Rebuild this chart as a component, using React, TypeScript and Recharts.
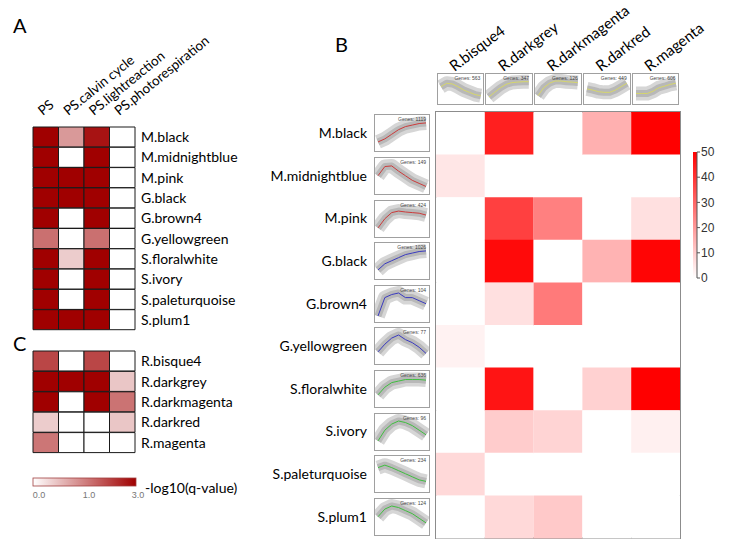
import React from "react";
import {
  BarChart,
  Bar,
  XAxis,
  YAxis,
  Cell,
  LineChart,
  Line,
  ReferenceArea,
} from "recharts";

const FONT = "Lato, 'Open Sans', sans-serif";

// panel A / C : -log10(q-value) of photosynthesis terms
const psTerms = ["PS", "PS.calvin cycle", "PS.lightreaction", "PS.photorespiration"];
const moduleRows = [
  "M.black",
  "M.midnightblue",
  "M.pink",
  "G.black",
  "G.brown4",
  "G.yellowgreen",
  "S.floralwhite",
  "S.ivory",
  "S.paleturquoise",
  "S.plum1",
];
const moduleQ = [
  [3, 0.8, 2.7, 0],
  [3, 0, 3, 0],
  [3, 3, 3, 0],
  [3, 3, 3, 0],
  [3, 0, 3, 0],
  [1.25, 0, 1.25, 0],
  [3, 0.4, 3, 0],
  [3, 0, 3, 0],
  [3, 0, 3, 0],
  [3, 3, 3, 0],
];
const rRows = ["R.bisque4", "R.darkgrey", "R.darkmagenta", "R.darkred", "R.magenta"];
const rQ = [
  [1.9, 0, 1.9, 0],
  [3, 3, 3, 0.45],
  [3, 0, 3, 1.2],
  [0.4, 0, 0, 0.45],
  [1.15, 0, 0, 0],
];
const qTicks = ["0.0", "1.0", "3.0"];

// panel B : overlap significance between module sets
const overlap = [
  [0, 44, 0, 15.5, 50],
  [5, 0, 0, 0, 0],
  [0, 37.5, 25, 0, 6],
  [0, 48, 0, 15, 49],
  [0, 6, 26, 0, 0],
  [2.5, 0, 0, 0, 0],
  [0, 46, 0, 9, 50],
  [0, 10, 8.5, 0, 3],
  [7.5, 0, 0, 0, 0],
  [0, 7.5, 10.5, 0, 0],
];
const overlapTicks = [0, 10, 20, 30, 40, 50];

// expression profiles (mean line of each module)
const rGenes = [563, 347, 126, 449, 606];
const rProfiles = [
  [0.6, 0.75, 0.72, 0.6, 0.45, 0.35, 0.25, 0.2],
  [0.15, 0.35, 0.55, 0.7, 0.78, 0.8, 0.82, 0.82],
  [0.2, 0.55, 0.75, 0.85, 0.85, 0.82, 0.8, 0.78],
  [0.5, 0.45, 0.38, 0.35, 0.35, 0.45, 0.6, 0.75],
  [0.3, 0.3, 0.3, 0.4, 0.55, 0.62, 0.7, 0.75],
];
const mGenes = [1119, 149, 424, 1026, 104, 77, 636, 96, 234, 124];
const mProfiles = [
  [0.2, 0.3, 0.45, 0.6, 0.7, 0.75, 0.8, 0.82],
  [0.5, 0.8, 0.82, 0.65, 0.5, 0.35, 0.25, 0.15],
  [0.2, 0.5, 0.7, 0.75, 0.72, 0.7, 0.68, 0.62],
  [0.2, 0.4, 0.5, 0.6, 0.7, 0.75, 0.8, 0.82],
  [0.1, 0.7, 0.8, 0.85, 0.7, 0.7, 0.6, 0.5],
  [0.3, 0.55, 0.75, 0.85, 0.7, 0.6, 0.45, 0.25],
  [0.3, 0.55, 0.7, 0.75, 0.8, 0.8, 0.8, 0.78],
  [0.2, 0.55, 0.75, 0.85, 0.8, 0.7, 0.55, 0.4],
  [0.7, 0.78, 0.7, 0.6, 0.5, 0.4, 0.3, 0.25],
  [0.5, 0.75, 0.85, 0.8, 0.7, 0.6, 0.45, 0.3],
];
const mLineColors = [
  "#cc3b3b", "#cc3b3b", "#cc3b3b",
  "#3b3bc0", "#3b3bc0", "#3b3bc0",
  "#3fbf3f", "#3fbf3f", "#3fbf3f", "#3fbf3f",
];
const rLineColor = "#d6d66a";

// positions of the B heatmap plot
const B_LEFT = 436;
const B_RIGHT = 680;
const B_TOP = 112;
const B_BOTTOM = 538;

function qColor(v: number) {
  const t = v <= 1 ? v * 0.5 : 0.5 + (v - 1) * 0.25;
  const r = Math.round(255 + (160 - 255) * t);
  const g = Math.round(255 * (1 - t));
  return `rgb(${r},${g},${g})`;
}

function redColor(v: number) {
  const g = Math.round(255 * (1 - v / 50));
  return `rgb(255,${g},${g})`;
}

function gridTable(rows: string[], ncol: number) {
  return rows.map((name) => {
    const row: Record<string, string | number> = { name };
    for (let j = 0; j < ncol; j++) row["c" + j] = 1;
    return row;
  });
}

function TermTick(props: any) {
  const { x, y, payload } = props;
  return (
    <text
      transform={`translate(${x - 3},${y - 11}) rotate(-39)`}
      textAnchor="start"
      fontSize={13.5}
      fontFamily={FONT}
      fill="#000"
    >
      {psTerms[Math.floor(payload.value)]}
    </text>
  );
}

function ModuleTick(props: any) {
  const { x, y, payload } = props;
  return (
    <text
      transform={`translate(${x - 6},${y - 40}) rotate(-37)`}
      textAnchor="start"
      fontSize={15}
      fontFamily={FONT}
      fill="#000"
    >
      {rRows[Math.floor(payload.value)]}
    </text>
  );
}

function PsGrid({ rows, values, width, height, margin, showTerms }: any) {
  return (
    <BarChart
      width={width}
      height={height}
      data={gridTable(rows, psTerms.length)}
      layout="vertical"
      margin={margin}
      barCategoryGap={0}
      barGap={0}
    >
      <XAxis
        type="number"
        domain={[0, 4]}
        orientation="top"
        ticks={[0.5, 1.5, 2.5, 3.5]}
        height={30}
        hide={!showTerms}
        axisLine={false}
        tickLine={false}
        tickSize={0}
        tickMargin={0}
        tick={<TermTick />}
        interval={0}
      />
      <YAxis
        type="category"
        dataKey="name"
        orientation="right"
        width={110}
        axisLine={false}
        tickLine={false}
        tickSize={0}
        tickMargin={6}
        interval={0}
        tick={{ fill: "#000", fontSize: 14, fontFamily: FONT }}
      />
      {psTerms.map((term, j) => (
        <Bar key={term} dataKey={"c" + j} stackId="s" isAnimationActive={false}>
          {rows.map((r: string, i: number) => (
            <Cell key={r} fill={qColor(values[i][j])} stroke="#1a1a1a" strokeWidth={1} />
          ))}
        </Bar>
      ))}
    </BarChart>
  );
}

function Thumb({ profile, color, genes, left, top, w, h }: any) {
  const data = profile.map((v: number, i: number) => ({ t: i, v }));
  return (
    <div
      style={{
        position: "absolute",
        left,
        top,
        width: w,
        height: h,
        border: "1px solid #a0a0a0",
        boxSizing: "border-box",
        background: "#fff",
      }}
    >
      <LineChart
        width={w - 2}
        height={h - 2}
        data={data}
        margin={{ top: 7, right: 3, bottom: 6, left: 3 }}
      >
        <XAxis dataKey="t" type="number" domain={[0, 7]} hide />
        <YAxis type="number" domain={[0.1, 0.85]} hide />
        <Line
          dataKey="v"
          stroke="#d6d6d6"
          strokeWidth={14}
          dot={false}
          isAnimationActive={false}
          strokeLinejoin="round"
        />
        <Line
          dataKey="v"
          stroke="#b8b8b8"
          strokeWidth={7}
          dot={false}
          isAnimationActive={false}
          strokeLinejoin="round"
        />
        <Line
          dataKey="v"
          stroke={color}
          strokeWidth={1}
          dot={false}
          isAnimationActive={false}
        />
      </LineChart>
      <div
        style={{
          position: "absolute",
          right: 3,
          top: 1,
          fontSize: 5,
          lineHeight: "6px",
          fontFamily: "Arial, 'Liberation Sans', sans-serif",
          color: "#444",
        }}
      >
        Genes: {genes}
      </div>
    </div>
  );
}

export default function App() {
  const bWrapLeft = 200;
  const bWrapW = 535;
  const yAxisW = 170;
  const rowH = (B_BOTTOM - B_TOP) / moduleRows.length;
  const colW = (B_RIGHT - B_LEFT) / rRows.length;

  return (
    <div
      style={{
        position: "absolute",
        left: 0,
        top: 0,
        width: 735,
        height: 552,
        background: "#fff",
        overflow: "hidden",
      }}
    >
      {/* panel A */}
      <div style={{ position: "absolute", left: 0, top: 0 }}>
        <PsGrid
          rows={moduleRows}
          values={moduleQ}
          width={260}
          height={335}
          margin={{ top: 97, right: 15, bottom: 5, left: 33 }}
          showTerms
        />
      </div>

      {/* panel C */}
      <div style={{ position: "absolute", left: 0, top: 341 }}>
        <PsGrid
          rows={rRows}
          values={rQ}
          width={260}
          height={122}
          margin={{ top: 10, right: 15, bottom: 10, left: 33 }}
          showTerms={false}
        />
      </div>

      {/* panel B heatmap */}
      <div style={{ position: "absolute", left: bWrapLeft, top: 0 }}>
        <BarChart
          width={bWrapW}
          height={552}
          data={gridTable(moduleRows, rRows.length)}
          layout="vertical"
          margin={{
            top: B_TOP - 20,
            right: bWrapLeft + bWrapW - B_RIGHT,
            bottom: 552 - B_BOTTOM,
            left: B_LEFT - bWrapLeft - yAxisW,
          }}
          barCategoryGap={0}
          barGap={0}
        >
          <XAxis
            type="number"
            domain={[0, 5]}
            orientation="top"
            ticks={[0.5, 1.5, 2.5, 3.5, 4.5]}
            height={20}
            axisLine={false}
            tickLine={false}
            tickSize={0}
            tickMargin={0}
            tick={<ModuleTick />}
            interval={0}
          />
          <YAxis
            type="category"
            dataKey="name"
            width={yAxisW}
            axisLine={false}
            tickLine={false}
            tickSize={0}
            tickMargin={69}
            interval={0}
            tick={{ fill: "#000", fontSize: 14, fontFamily: FONT }}
          />
          {rRows.map((r, j) => (
            <Bar key={r} dataKey={"c" + j} stackId="s" isAnimationActive={false}>
              {moduleRows.map((m, i) => (
                <Cell key={m} fill={redColor(overlap[i][j])} />
              ))}
            </Bar>
          ))}
          <ReferenceArea
            x1={0}
            x2={5}
            fill="none"
            stroke="#8c8c8c"
            strokeWidth={2}
            ifOverflow="visible"
          />
        </BarChart>
      </div>

      {/* module profile thumbnails */}
      {mProfiles.map((p, i) => (
        <Thumb
          key={moduleRows[i]}
          profile={p}
          color={mLineColors[i]}
          genes={mGenes[i]}
          left={374}
          top={B_TOP + i * rowH + (rowH - 38) / 2}
          w={56}
          h={38}
        />
      ))}
      {rProfiles.map((p, j) => (
        <Thumb
          key={rRows[j]}
          profile={p}
          color={rLineColor}
          genes={rGenes[j]}
          left={B_LEFT + j * colW + 0.5}
          top={73}
          w={colW - 1}
          h={32}
        />
      ))}

      {/* colour bar of panel B */}
      <div style={{ position: "absolute", left: 680, top: 140 }}>
        <BarChart
          width={55}
          height={150}
          data={[{ name: "scale", v: 50 }]}
          margin={{ top: 12, right: 8, bottom: 12, left: 13 }}
          barCategoryGap={0}
        >
          <defs>
            <linearGradient id="redScale" x1="0" y1="1" x2="0" y2="0">
              <stop offset="0%" stopColor="#ffffff" />
              <stop offset="100%" stopColor="#ff0000" />
            </linearGradient>
          </defs>
          <XAxis dataKey="name" hide />
          <YAxis
            type="number"
            domain={[0, 50]}
            ticks={overlapTicks}
            orientation="right"
            width={30}
            tickSize={3}
            tickMargin={1}
            stroke="#555"
            tick={{ fill: "#333", fontSize: 12, fontFamily: "Arial, 'Liberation Sans', sans-serif" }}
            interval={0}
          />
          <Bar dataKey="v" fill="url(#redScale)" isAnimationActive={false} />
        </BarChart>
      </div>

      {/* panel letters and q-value legend */}
      <svg
        width={735}
        height={552}
        style={{ position: "absolute", left: 0, top: 0, pointerEvents: "none" }}
      >
        <defs>
          <linearGradient id="qScale" x1="0" y1="0" x2="1" y2="0">
            <stop offset="0%" stopColor={qColor(0)} />
            <stop offset="50%" stopColor={qColor(1)} />
            <stop offset="100%" stopColor={qColor(3)} />
          </linearGradient>
        </defs>
        <text x={13} y={33} fontSize={20} fontFamily={FONT} fill="#000">A</text>
        <text x={335} y={52} fontSize={20} fontFamily={FONT} fill="#000">B</text>
        <text x={13} y={351} fontSize={20} fontFamily={FONT} fill="#000">C</text>
        <rect x={33} y={478} width={103} height={8} fill="url(#qScale)" stroke="#a04040" strokeWidth={0.8} />
        {qTicks.map((t, i) => (
          <text
            key={t}
            x={[39, 89, 138][i]}
            y={498}
            fontSize={9}
            textAnchor="middle"
            fontFamily="Arial, 'Liberation Sans', sans-serif"
            fill="#777"
          >
            {t}
          </text>
        ))}
        <text x={145} y={493} fontSize={14} fontFamily={FONT} fill="#000">
          -log10(q-value)
        </text>
      </svg>
    </div>
  );
}
